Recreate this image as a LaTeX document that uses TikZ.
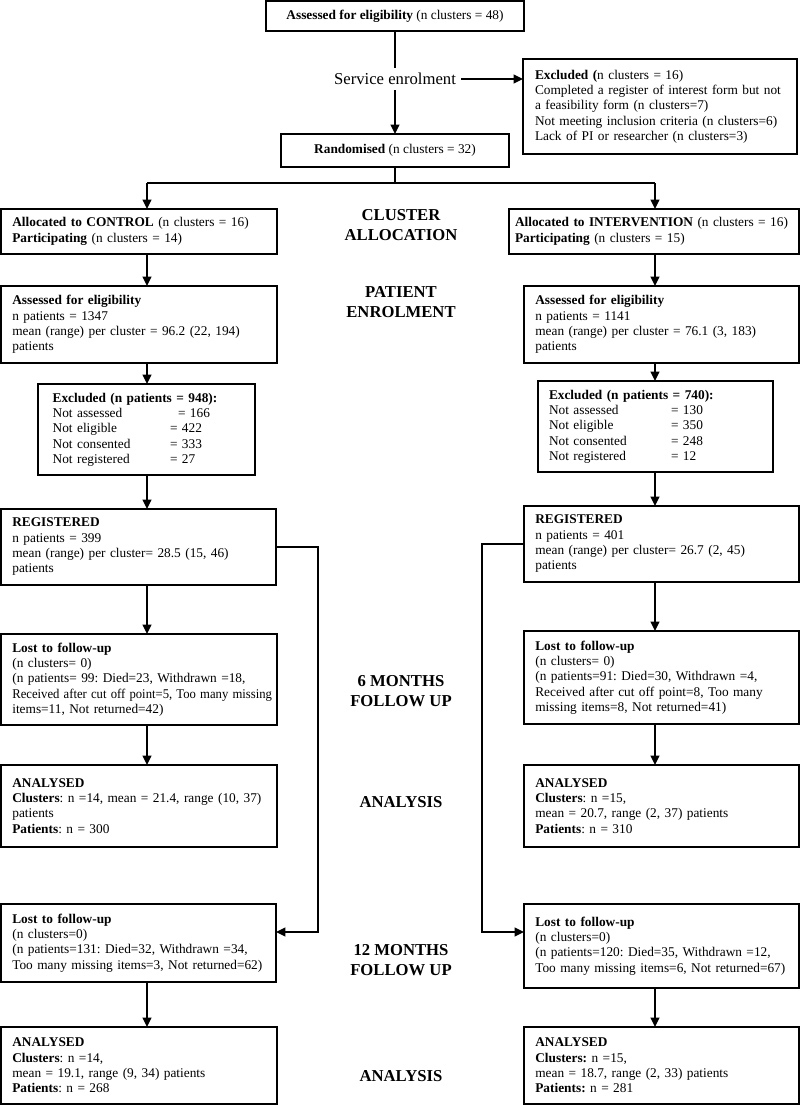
\documentclass[tikz,border=0pt]{standalone}
\usepackage{fontspec}
\setmainfont{Liberation Serif}
\usetikzlibrary{arrows.meta}
\frenchspacing

\begin{document}
\begin{tikzpicture}[x=0.75pt,y=-0.75pt,
    every node/.style={font=\fontsize{10}{11.5}\selectfont},
    box/.style={draw,line width=1.2pt,anchor=north west,align=left,inner xsep=8.5pt,inner ysep=0pt,outer sep=0pt},
    stage/.style={font=\fontsize{12.5}{15}\selectfont\bfseries,align=center},
    line/.style={line width=1.2pt},
    arr/.style={line width=1.2pt,-{Triangle[length=7pt,width=6.5pt]}}]
    \useasboundingbox (0,0) rectangle (800,1105);

    \node[box,align=center,minimum width=193.5pt,minimum height=22.5pt] (1) at (266,1) {\textbf{Assessed for eligibility} (n clusters = 48)};
    \node[font=\fontsize{12.5}{15}\selectfont,inner sep=3.75pt] (2) at (395,79) {Service enrolment};
    \node[box,inner xsep=9pt,text width=187.5pt,minimum height=71.25pt] (3) at (523,59) {\textbf{Excluded (}n clusters = 16)\\Completed a register of interest form but not\\a feasibility form (n clusters=7)\\Not meeting inclusion criteria (n clusters=6)\\Lack of PI or researcher (n clusters=3)};
    \node[box,align=center,minimum width=171pt,minimum height=24.75pt] (4) at (281,134) {\textbf{Randomised} (n clusters = 32)};

    \node[box,text width=190pt,minimum height=33.75pt] (5) at (1,209) {\textbf{Allocated to CONTROL} (n clusters = 16)\\\textbf{Participating} (n clusters = 14)};
    \node[box,inner xsep=4.5pt,text width=208.5pt,minimum height=33.75pt] (6) at (509,209) {\textbf{Allocated to INTERVENTION} (n clusters = 16)\\\textbf{Participating} (n clusters = 15)};
    \node[box,text width=190pt,minimum height=57.75pt] (7) at (1,286) {\textbf{Assessed for eligibility}\\n patients = 1347\\mean (range) per cluster = 96.2 (22, 194)\\patients};
    \node[box,text width=189.25pt,minimum height=57.75pt] (8) at (524,286) {\textbf{Assessed for eligibility}\\n patients = 1141\\mean (range) per cluster = 76.1 (3, 183)\\patients};
    \node[box,inner xsep=11pt,text width=140.75pt,minimum height=68.25pt] (9) at (38,384) {\textbf{Excluded (n patients = 948):}\\\makebox[94pt][l]{Not assessed}= 166\\\makebox[88pt][l]{Not eligible}= 422\\\makebox[88pt][l]{Not consented}= 333\\\makebox[88pt][l]{Not registered}= 27};
    \node[box,inner xsep=8.25pt,text width=159.75pt,minimum height=68.25pt] (10) at (538,381) {\textbf{Excluded (n patients = 740):}\\\makebox[91.5pt][l]{Not assessed}= 130\\\makebox[91.5pt][l]{Not eligible}= 350\\\makebox[91.5pt][l]{Not consented}= 248\\\makebox[91.5pt][l]{Not registered}= 12};
    \node[box,text width=189.25pt,minimum height=57pt] (11) at (1,509) {\textbf{REGISTERED}\\n patients = 399\\mean (range) per cluster= 28.5 (15, 46)\\patients};
    \node[box,text width=189.25pt,minimum height=57pt] (12) at (524,506) {\textbf{REGISTERED}\\n patients = 401\\mean (range) per cluster= 26.7 (2, 45)\\patients};
    \node[box,text width=190pt,minimum height=68.25pt] (13) at (1,634) {\textbf{Lost to follow-up}\\(n clusters= 0)\\(n patients= 99: Died=23, Withdrawn =18,\\\scalebox{0.95}[1]{Received after cut off point=5, Too many missing}\\items=11, Not returned=42)};
    \node[box,text width=189.25pt,minimum height=69.75pt] (14) at (524,631) {\textbf{Lost to follow-up}\\(n clusters= 0)\\(n patients=91: Died=30, Withdrawn =4,\\Received after cut off point=8, Too many\\missing items=8, Not returned=41)};
    \node[box,text width=190pt,minimum height=61.5pt] (15) at (1,765) {\textbf{ANALYSED}\\\textbf{Clusters}: n =14, mean = 21.4, range (10, 37)\\patients\\\textbf{Patients}: n = 300};
    \node[box,text width=189.25pt,minimum height=61.5pt] (16) at (524,765) {\textbf{ANALYSED}\\\textbf{Clusters}: n =15,\\mean = 20.7, range (2, 37) patients\\\textbf{Patients}: n = 310};
    \node[box,text width=189.25pt,minimum height=58.5pt] (17) at (1,904) {\textbf{Lost to follow-up}\\(n clusters=0)\\(n patients=131: Died=32, Withdrawn =34,\\Too many missing items=3, Not returned=62)};
    \node[box,text width=189.25pt,minimum height=63pt] (18) at (524,904) {\textbf{Lost to follow-up}\\(n clusters=0)\\(n patients=120: Died=35, Withdrawn =12,\\Too many missing items=6, Not returned=67)};
    \node[box,text width=190pt,minimum height=57.75pt] (19) at (1,1027) {\textbf{ANALYSED}\\\textbf{Clusters}: n =14,\\mean = 19.1, range (9, 34) patients\\\textbf{Patients}: n = 268};
    \node[box,text width=189.25pt,minimum height=57.75pt] (20) at (524,1027) {\textbf{ANALYSED}\\\textbf{Clusters:} n =15,\\mean = 18.7, range (2, 33) patients\\\textbf{Patients:} n = 281};

    \node[stage] (21) at (401,225) {CLUSTER\\ALLOCATION};
    \node[stage] (22) at (401,302) {PATIENT\\ENROLMENT};
    \node[stage] (23) at (401,691) {6 MONTHS\\FOLLOW UP};
    \node[stage] (24) at (401,802) {ANALYSIS};
    \node[stage] (25) at (401,960) {12 MONTHS\\FOLLOW UP};
    \node[stage] (26) at (401,1076) {ANALYSIS};

    \coordinate (split) at (395,183);
    \coordinate (cl) at (147,183);
    \coordinate (cr) at (655,183);
    \coordinate (by1) at (318,932);
    \coordinate (by2) at (482,932);

    \path[line] (1) edge (2) (4) edge (split) (cl) edge (cr);
    \path[arr]
    (2) edge (4)
    (2.east) edge (2.east -| 3.west)
    (cl) edge (cl |- 5.north)
    (cr) edge (cr |- 6.north)
    (5.south -| cl) edge (7.north -| cl)
    (7.south -| cl) edge (9.north -| cl)
    (9.south -| cl) edge (11.north -| cl)
    (11.south -| cl) edge (13.north -| cl)
    (13.south -| cl) edge (15.north -| cl)
    (17.south -| cl) edge (19.north -| cl)
    (6.south -| cr) edge (8.north -| cr)
    (8.south -| cr) edge (10.north -| cr)
    (10.south -| cr) edge (12.north -| cr)
    (12.south -| cr) edge (14.north -| cr)
    (14.south -| cr) edge (16.north -| cr)
    (18.south -| cr) edge (20.north -| cr);
    \draw[arr] (11.east) -| (by1) -- (by1 -| 17.east);
    \draw[arr] (12.west) -| (by2) -- (by2 -| 18.west);
  \end{tikzpicture}
\end{document}
